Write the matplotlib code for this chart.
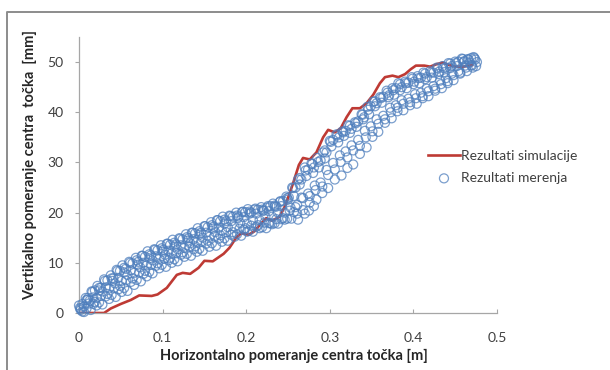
import matplotlib
matplotlib.use("Agg")
import matplotlib.pyplot as plt
from matplotlib.lines import Line2D

plt.rcParams['font.family'] = ['Lato', 'DejaVu Sans']

# Simulated trajectory of the wheel centre (x in m, y in mm)
sim_x = [0.000, 0.030, 0.038, 0.050, 0.062, 0.072, 0.087, 0.094, 0.105, 0.117,
         0.124, 0.133, 0.143, 0.150, 0.160, 0.173, 0.180, 0.188, 0.194, 0.203,
         0.210, 0.217, 0.224, 0.231, 0.240, 0.247, 0.256, 0.263, 0.268, 0.276,
         0.284, 0.292, 0.298, 0.306, 0.313, 0.320, 0.327, 0.336, 0.344, 0.352,
         0.360, 0.366, 0.375, 0.382, 0.390, 0.397, 0.403, 0.413, 0.420, 0.428,
         0.435, 0.443, 0.450, 0.460, 0.470]
sim_y = [0.0, 0.0, 0.9, 1.8, 2.6, 3.5, 3.4, 3.7, 5.0, 7.6,
         8.0, 7.8, 9.0, 10.4, 10.3, 11.8, 13.0, 15.0, 15.9, 15.6,
         16.3, 17.7, 18.9, 18.4, 19.2, 21.5, 25.8, 29.5, 30.9, 30.6,
         32.0, 35.0, 36.5, 36.0, 36.8, 39.0, 40.8, 40.8, 41.8, 43.5,
         45.8, 47.0, 47.3, 47.0, 47.6, 48.6, 49.3, 49.3, 49.1, 49.6,
         49.9, 49.4, 49.1, 49.1, 49.4]

# Measured trajectory, recorded over several passes
meas1_x = [0.000, 0.008, 0.015, 0.022, 0.030, 0.038, 0.045, 0.052, 0.060, 0.068,
           0.075, 0.082, 0.090, 0.098, 0.105, 0.112, 0.120, 0.128, 0.135, 0.142,
           0.150, 0.158, 0.165, 0.172, 0.180, 0.188, 0.195, 0.202, 0.210, 0.218,
           0.225, 0.232, 0.240, 0.248, 0.255, 0.262, 0.270, 0.278, 0.285, 0.292,
           0.300, 0.308, 0.315, 0.322, 0.330, 0.338, 0.345, 0.352, 0.360, 0.368,
           0.375, 0.382, 0.390, 0.398, 0.405, 0.412, 0.420, 0.428, 0.435, 0.442,
           0.450, 0.458, 0.465, 0.472]
meas1_y = [1.5, 3.0, 4.3, 5.4, 6.7, 7.5, 8.6, 9.5, 10.2, 11.0,
           11.4, 12.3, 12.7, 13.5, 13.8, 14.6, 14.9, 15.7, 16.0, 16.9,
           17.3, 18.1, 18.5, 19.2, 19.4, 20.0, 20.1, 20.7, 20.6, 21.1,
           21.0, 21.8, 22.1, 23.2, 25.0, 26.6, 29.0, 29.8, 30.9, 32.0,
           34.3, 35.6, 36.2, 37.4, 38.0, 39.6, 41.1, 42.1, 43.0, 44.3,
           44.8, 45.8, 46.1, 47.0, 47.2, 47.9, 48.2, 48.9, 49.2, 49.8,
           50.1, 50.7, 50.6, 51.0]

meas2_x = [0.002, 0.010, 0.017, 0.024, 0.032, 0.040, 0.047, 0.054, 0.062, 0.070,
           0.077, 0.084, 0.092, 0.100, 0.107, 0.114, 0.122, 0.130, 0.137, 0.144,
           0.152, 0.160, 0.167, 0.174, 0.182, 0.190, 0.197, 0.204, 0.212, 0.220,
           0.227, 0.234, 0.242, 0.250, 0.257, 0.264, 0.272, 0.280, 0.287, 0.294,
           0.302, 0.310, 0.317, 0.324, 0.332, 0.340, 0.347, 0.354, 0.362, 0.370,
           0.377, 0.384, 0.392, 0.400, 0.407, 0.414, 0.422, 0.430, 0.437, 0.444,
           0.452, 0.460, 0.467, 0.474]
meas2_y = [0.9, 2.6, 3.1, 4.5, 5.1, 6.4, 7.0, 8.1, 8.5, 9.6,
           10.0, 10.9, 11.3, 12.2, 12.4, 13.2, 13.5, 14.4, 14.7, 15.6,
           16.0, 16.8, 17.0, 17.8, 18.3, 18.9, 19.1, 19.8, 19.8, 20.4,
           20.3, 21.2, 21.3, 22.6, 23.3, 25.6, 27.3, 27.9, 29.0, 30.8,
           33.2, 34.0, 35.3, 35.9, 37.1, 38.6, 39.6, 41.2, 41.9, 43.0,
           43.5, 44.4, 44.8, 45.6, 45.8, 46.6, 46.9, 47.6, 48.0, 48.8,
           49.2, 50.0, 49.9, 50.5]

meas3_x = [0.004, 0.012, 0.019, 0.026, 0.034, 0.042, 0.049, 0.056, 0.064, 0.072,
           0.079, 0.086, 0.094, 0.102, 0.109, 0.116, 0.124, 0.132, 0.139, 0.146,
           0.154, 0.162, 0.169, 0.176, 0.184, 0.192, 0.199, 0.206, 0.214, 0.222,
           0.229, 0.236, 0.244, 0.252, 0.259, 0.266, 0.274, 0.282, 0.289, 0.296,
           0.304, 0.312, 0.319, 0.326, 0.334, 0.342, 0.349, 0.356, 0.364, 0.372,
           0.379, 0.386, 0.394, 0.402, 0.409, 0.416, 0.424, 0.432, 0.439, 0.446,
           0.454, 0.462, 0.469, 0.476]
meas3_y = [0.3, 1.9, 2.2, 3.4, 3.8, 5.0, 5.4, 6.5, 6.9, 8.1,
           8.4, 9.6, 9.9, 10.8, 11.0, 11.9, 12.1, 13.2, 13.3, 14.2,
           14.4, 15.3, 15.5, 16.1, 16.1, 16.8, 16.9, 17.4, 17.5, 18.0,
           17.9, 18.7, 18.9, 20.4, 21.1, 23.0, 23.8, 25.4, 26.0, 28.5,
           29.9, 31.4, 32.2, 33.4, 34.5, 36.3, 37.2, 38.6, 39.3, 40.9,
           41.4, 42.4, 42.7, 43.6, 43.9, 44.7, 45.2, 46.3, 46.8, 47.7,
           48.2, 49.3, 49.4, 50.0]

meas4_x = [0.006, 0.014, 0.021, 0.028, 0.036, 0.044, 0.051, 0.058, 0.066, 0.074,
           0.081, 0.088, 0.096, 0.104, 0.111, 0.118, 0.126, 0.134, 0.141, 0.148,
           0.156, 0.164, 0.171, 0.178, 0.186, 0.194, 0.201, 0.208, 0.216, 0.224,
           0.231, 0.238, 0.246, 0.254, 0.261, 0.268, 0.276, 0.284, 0.291, 0.298,
           0.306, 0.314, 0.321, 0.328, 0.336, 0.344, 0.351, 0.358, 0.366, 0.374,
           0.381, 0.388, 0.396, 0.404, 0.411, 0.418, 0.426, 0.434, 0.441, 0.448,
           0.456, 0.464, 0.471, 0.475]
meas4_y = [0.2, 0.6, 1.5, 1.7, 2.8, 3.2, 4.2, 4.4, 5.6, 6.3,
           7.3, 7.9, 8.9, 9.2, 10.0, 10.3, 11.2, 11.4, 12.2, 12.4,
           13.2, 13.4, 14.2, 14.4, 15.2, 15.4, 16.2, 16.2, 16.9, 16.9,
           17.7, 17.8, 18.6, 18.8, 19.8, 20.5, 22.0, 22.6, 23.9, 24.9,
           26.6, 27.4, 28.9, 29.6, 31.7, 33.0, 35.1, 36.1, 37.9, 38.8,
           40.2, 40.4, 41.4, 41.7, 42.8, 43.2, 44.3, 44.8, 45.8, 46.4,
           47.7, 48.2, 48.9, 49.2]

meas5_x = [0.004, 0.011, 0.019, 0.026, 0.034, 0.041, 0.049, 0.056, 0.064, 0.071,
           0.079, 0.086, 0.094, 0.101, 0.109, 0.116, 0.124, 0.131, 0.139, 0.146,
           0.154, 0.161, 0.169, 0.176, 0.184, 0.191, 0.199, 0.206, 0.214, 0.221,
           0.229, 0.236, 0.244, 0.251, 0.259, 0.266, 0.274, 0.281, 0.289, 0.296,
           0.304, 0.311, 0.319, 0.326, 0.334, 0.341, 0.349, 0.356, 0.364, 0.371,
           0.379, 0.386, 0.394, 0.401, 0.409, 0.416, 0.424, 0.431, 0.439, 0.446,
           0.454, 0.461, 0.469]
meas5_y = [1.8, 3.0, 4.5, 5.0, 6.5, 6.9, 8.4, 8.8, 9.9, 10.2,
           11.2, 11.5, 12.5, 12.6, 13.6, 13.7, 14.7, 14.9, 15.9, 16.0,
           17.1, 17.2, 18.3, 18.3, 19.2, 19.2, 20.1, 20.0, 20.6, 20.4,
           21.3, 21.2, 22.3, 23.0, 25.0, 26.6, 28.6, 29.0, 30.4, 32.0,
           34.5, 35.0, 36.3, 36.7, 38.2, 39.0, 41.2, 41.8, 43.1, 43.4,
           44.8, 45.0, 45.9, 46.1, 46.9, 47.0, 47.9, 48.1, 48.9, 49.2,
           50.1, 50.2, 50.8]

meas6_x = [0.006, 0.013, 0.021, 0.028, 0.036, 0.043, 0.051, 0.058, 0.066, 0.073,
           0.081, 0.088, 0.096, 0.103, 0.111, 0.118, 0.126, 0.133, 0.141, 0.148,
           0.156, 0.163, 0.171, 0.178, 0.186, 0.193, 0.201, 0.208, 0.216, 0.223,
           0.231, 0.238, 0.246, 0.253, 0.261, 0.268, 0.276, 0.283, 0.291, 0.298,
           0.306, 0.313, 0.321, 0.328, 0.336, 0.343, 0.351, 0.358, 0.366, 0.373,
           0.381, 0.388, 0.396, 0.403, 0.411, 0.418, 0.426, 0.433, 0.441, 0.448,
           0.456, 0.463, 0.470]
meas6_y = [1.3, 2.5, 3.0, 4.3, 4.9, 5.9, 6.4, 7.6, 8.0, 9.1,
           9.5, 10.5, 10.8, 11.6, 11.9, 12.7, 13.0, 13.9, 14.1, 15.0,
           15.2, 16.1, 16.4, 17.1, 17.2, 17.9, 17.8, 18.5, 18.5, 19.2,
           19.2, 20.0, 20.0, 21.0, 21.5, 22.9, 23.3, 24.5, 25.2, 27.5,
           28.6, 30.1, 31.0, 32.4, 33.3, 35.0, 36.2, 37.7, 38.6, 40.0,
           40.9, 41.7, 42.0, 42.8, 43.2, 44.2, 44.7, 45.6, 46.2, 47.4,
           47.9, 48.9, 49.3]

meas7_x = [0.002, 0.009, 0.017, 0.024, 0.032, 0.039, 0.047, 0.054, 0.062, 0.069,
           0.077, 0.084, 0.092, 0.099, 0.107, 0.114, 0.122, 0.129, 0.137, 0.144,
           0.152, 0.159, 0.167, 0.174, 0.182, 0.189, 0.197, 0.204, 0.212, 0.219,
           0.227, 0.234, 0.242, 0.249, 0.257]
meas7_y = [0.6, 0.9, 1.8, 2.1, 3.3, 3.6, 4.7, 5.0, 6.2, 6.6,
           7.8, 8.2, 9.4, 9.6, 10.5, 10.7, 11.6, 11.8, 12.7, 12.8,
           13.8, 13.9, 14.8, 14.9, 15.6, 15.7, 16.6, 16.5, 17.2, 17.1,
           17.9, 17.9, 18.7, 18.8, 20.1]

meas8_x = [0.001, 0.009, 0.016, 0.024, 0.031, 0.039, 0.046, 0.054, 0.061, 0.069,
           0.076, 0.084, 0.091, 0.099, 0.106, 0.114, 0.121, 0.129, 0.136, 0.144,
           0.151, 0.159, 0.166, 0.174, 0.181, 0.189, 0.196, 0.204, 0.211, 0.219,
           0.226, 0.234, 0.241, 0.249, 0.256, 0.264, 0.271, 0.279, 0.286, 0.294,
           0.301, 0.309, 0.316, 0.324, 0.331, 0.339, 0.346, 0.354, 0.361, 0.369,
           0.376, 0.384, 0.391, 0.399, 0.406, 0.414, 0.421, 0.429, 0.436, 0.444,
           0.451, 0.459, 0.466, 0.473]
meas8_y = [1.0, 2.6, 4.2, 5.0, 6.4, 6.9, 8.4, 9.0, 10.0, 10.5,
           11.4, 11.7, 12.6, 12.9, 13.8, 14.0, 14.8, 15.1, 16.0, 16.3,
           17.3, 17.5, 18.5, 18.6, 19.3, 19.4, 20.2, 20.2, 20.8, 20.6,
           21.3, 21.4, 22.3, 22.9, 24.9, 26.9, 28.4, 29.7, 30.1, 32.4,
           34.1, 35.4, 36.0, 37.3, 37.8, 39.5, 40.5, 42.2, 42.8, 43.9,
           44.4, 45.6, 45.8, 46.7, 46.8, 47.7, 47.9, 48.7, 48.8, 49.7,
           49.8, 50.6, 50.5, 50.8]

meas9_x = [0.262, 0.270, 0.275, 0.281]
meas9_y = [18.6, 19.8, 20.4, 21.3]

x_ticks = [0, 0.1, 0.2, 0.3, 0.4, 0.5]
x_tick_labels = ['0', '0.1', '0.2', '0.3', '0.4', '0.5']
y_ticks = [0, 10, 20, 30, 40, 50]
y_tick_labels = ['0', '10', '20', '30', '40', '50']

W, H = 610, 370
fig = plt.figure(figsize=(W / 100, H / 100), dpi=100)
fig.patch.set_facecolor('white')

ax = fig.add_axes([79 / W, (H - 313) / H, 418 / W, 276 / H])

meas_x = (meas1_x + meas2_x + meas3_x + meas4_x + meas5_x + meas6_x
          + meas7_x + meas8_x + meas9_x)
meas_y = (meas1_y + meas2_y + meas3_y + meas4_y + meas5_y + meas6_y
          + meas7_y + meas8_y + meas9_y)

ax.plot(sim_x, sim_y, color='#be3a34', linewidth=1.9, zorder=2,
        solid_joinstyle='round', label='Rezultati simulacije')
ax.scatter(meas_x, meas_y, s=42, facecolors='none', edgecolors='#4f7fbd',
           linewidths=0.9, alpha=0.75, zorder=3, clip_on=False,
           label='Rezultati merenja')

ax.set_xlim(0, 0.5)
ax.set_ylim(0, 55)
ax.set_xticks(x_ticks)
ax.set_xticklabels(x_tick_labels)
ax.set_yticks(y_ticks)
ax.set_yticklabels(y_tick_labels)

for side in ('top', 'right'):
    ax.spines[side].set_visible(False)
for side in ('left', 'bottom'):
    ax.spines[side].set_color('#a6a6a6')
    ax.spines[side].set_linewidth(0.9)

ax.tick_params(axis='x', direction='in', length=3, width=0.8, color='#a6a6a6',
               pad=14, labelsize=10, labelcolor='#404040')
ax.tick_params(axis='y', direction='out', length=3, width=0.8, color='#a6a6a6',
               pad=8, labelsize=10, labelcolor='#404040')

ax.set_xlabel('Horizontalno pomeranje centra točka [m]', fontsize=10.5,
              fontweight='bold', color='#262626')
ax.xaxis.set_label_coords(0.515, -0.13)
ax.set_ylabel('Vertikalno pomeranje centra  točka  [mm]', fontsize=10.5,
              fontweight='bold', color='#262626')
ax.yaxis.set_label_coords(-0.1, 0.535)

ax.legend(loc='upper left', bbox_to_anchor=(428 / W, 1 - 150 / H),
          bbox_transform=fig.transFigure, frameon=False, fontsize=10,
          handlelength=2.3, handletextpad=0.1, labelspacing=0.72,
          borderpad=0, borderaxespad=0, labelcolor='#404040')

# outer frame of the figure panel
fig.add_artist(Line2D([7 / W, 7 / W, 1.0], [0.0, 1 - 12 / H, 1 - 12 / H],
                      transform=fig.transFigure, color='#8c8c8c',
                      linewidth=1.4))

fig.savefig('out.png', dpi=100)
